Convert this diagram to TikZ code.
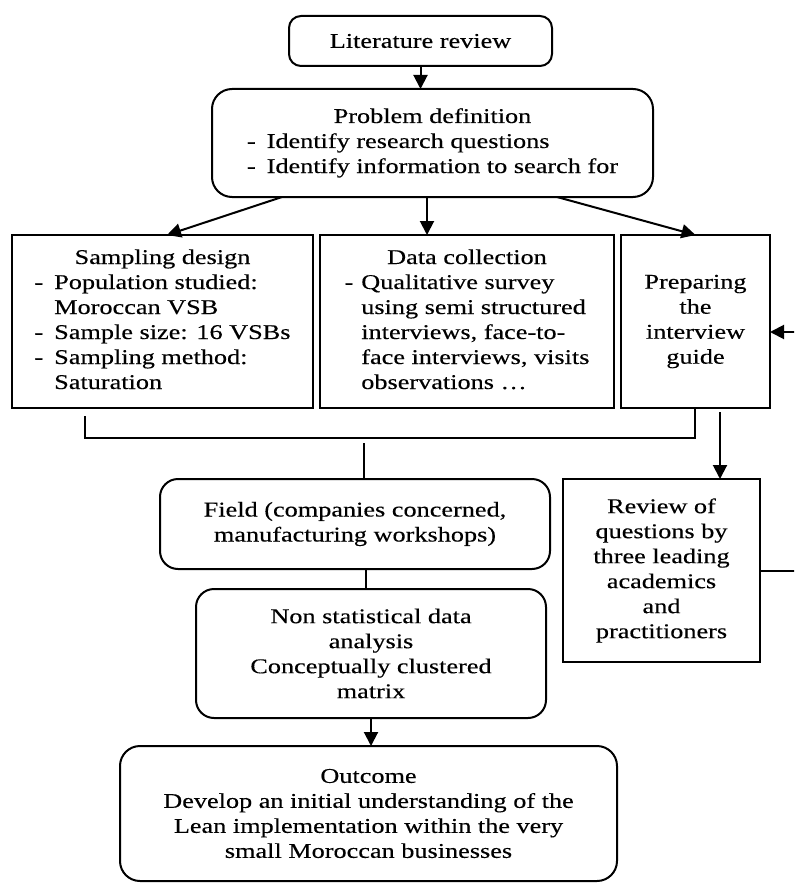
\documentclass[tikz,border=0pt]{standalone}
\usepackage{fontspec}
\setmainfont[FakeStretch=1.25,FakeBold=0.3]{Liberation Serif}
\usepackage{tikz}
\usetikzlibrary{arrows.meta,positioning,calc}
\tikzset{
  roundbox/.style={
    rounded corners=9pt,
    draw=black,
    line width=1pt,
    align=center,
    inner sep=3pt,
    outer sep=0pt,
    font=\fontsize{10.5}{12.5}\selectfont
  },
  sqbox/.style={
    draw=black,
    line width=1pt,
    align=center,
    inner sep=3pt,
    outer sep=0pt,
    font=\fontsize{10.5}{12.5}\selectfont
  },
  arrow/.style={
    -{Triangle[length=7pt,width=7pt]},
    line width=1pt,
    draw=black
  },
  link/.style={
    line width=1pt,
    draw=black
  }
}

\begin{document}
\begin{tikzpicture}[x=0.5pt,y=-0.5pt]
\useasboundingbox (0,0) rectangle (794,883);
\clip (0,0) rectangle (794,883);
\node[roundbox, rounded corners=6pt, minimum width=131.5pt, minimum height=25pt] (lit) at (420.5,41) {Literature review};
\node[roundbox, rounded corners=10pt, minimum width=220.5pt, minimum height=54pt, below=11.5pt of lit, xshift=6pt] (prob)
  {\begin{tabular}{@{}l@{\hspace{5.5pt}}l@{}}
   \multicolumn{2}{c}{Problem definition}\\
   - & Identify research questions\\
   - & Identify information to search for
   \end{tabular}};
\node[sqbox, minimum width=147pt, minimum height=86.5pt, below=19pt of prob, xshift=17.25pt] (data)
  {\begin{tabular}{@{}l@{\hspace{4pt}}l@{}}
   \multicolumn{2}{c}{Data collection}\\
   - & Qualitative survey\\
     & using semi structured\\
     & interviews, face-to-\\
     & face interviews, visits\\
     & observations \ldots
   \end{tabular}};
\node[sqbox, minimum width=150.5pt, minimum height=86.5pt, left=3.5pt of data] (samp)
  {\begin{tabular}{@{}l@{\hspace{5.5pt}}l@{}}
   \multicolumn{2}{c}{Sampling design}\\
   - & Population studied:\\
     & Moroccan VSB\\
   - & Sample size: 16 VSBs\\
   - & Sampling method:\\
     & Saturation
   \end{tabular}};
\node[sqbox, minimum width=74.5pt, minimum height=86.5pt, right=3.5pt of data] (prep) {Preparing\\the\\interview\\guide};
\node[roundbox, minimum width=195pt, minimum height=45pt, below=35.5pt of data, xshift=-56pt] (field) {Field (companies concerned,\\manufacturing workshops)};
\node[roundbox, minimum width=175pt, minimum height=64.5pt, below=10pt of field, xshift=8pt] (nonstat) {Non statistical data\\analysis\\Conceptually clustered\\matrix};
\node[roundbox, rounded corners=10pt, minimum width=248.5pt, minimum height=67.5pt, below=14pt of nonstat, xshift=-1.25pt] (outcome) {Outcome\\Develop an initial understanding of the\\Lean implementation within the very\\small Moroccan businesses};
\node[sqbox, minimum width=98.5pt, minimum height=91.5pt, below=35.5pt of prep, xshift=-17pt] (review) {Review of\\questions by\\three leading\\academics\\and\\practitioners};
% connectors
\draw[arrow] (lit.south) -- (prob.north -| lit.south);
\draw[arrow] ([xshift=-75.25pt]prob.south) -- ([xshift=2.25pt]samp.north);
\draw[arrow] ([xshift=-2.75pt]prob.south) -- ([xshift=-20pt]data.north);
\draw[arrow] ([xshift=62.25pt]prob.south) -- (prep.north);
\coordinate (bl) at (85,416);
\coordinate (br) at (695,438);
\coordinate (bm) at (364,443);
\draw[link] (bl) |- (br) -- (prep.south -| br);
\draw[link] (bm) -- (field.north -| bm);
\coordinate (pr) at ([xshift=12.25pt,yshift=-2pt]prep.south);
\draw[arrow] (pr) -- (review.north -| pr);
\coordinate (fn) at ([xshift=5.5pt]field.south);
\draw[link] (fn) -- (nonstat.north -| fn);
\draw[arrow] (nonstat.south) -- (outcome.north -| nonstat.south);
\coordinate (fb) at (800,572);
\draw[arrow] (review.east) -- (review.east -| fb) |- ([yshift=-5.25pt]prep.east);
\end{tikzpicture}
\end{document}
